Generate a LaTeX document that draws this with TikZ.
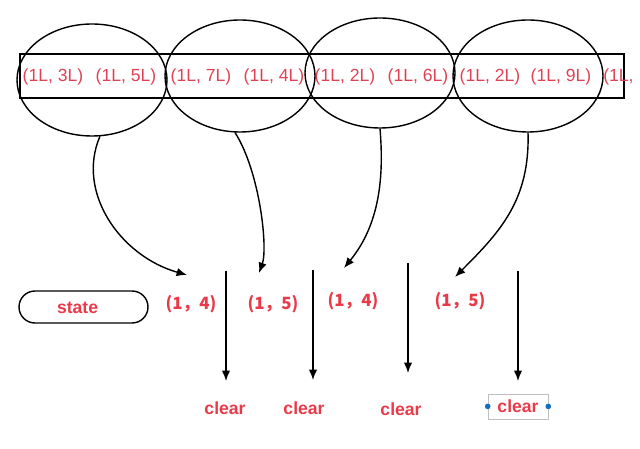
\documentclass[tikz,border=0pt]{standalone}
\usepackage{fontspec}
\setmainfont{Liberation Sans}
\newfontfamily\cjkfont{Noto Sans CJK SC}
\usetikzlibrary{shapes.geometric, arrows.meta}

\definecolor{pairred}{RGB}{222,66,84}
\definecolor{labelred}{RGB}{232,58,72}
\definecolor{dotblue}{RGB}{20,110,190}

\begin{document}
\begin{tikzpicture}[
    groupoval/.style={draw, ellipse, line width=1pt, minimum width=3.75cm, minimum height=2.8cm, inner sep=0pt},
    pairtext/.style={text=pairred, font=\fontsize{12.5}{14}\selectfont, inner sep=0pt},
    resulttext/.style={text=labelred, font=\cjkfont\bfseries\fontsize{12}{14}\selectfont},
    cleartext/.style={text=labelred, font=\bfseries\fontsize{12.5}{14}\selectfont},
    flowarrow/.style={-{Latex[length=2.6mm, width=2.1mm]}, line width=1pt}
]
    \useasboundingbox (0,0) rectangle (16,11.2);

    % Array
    \draw[line width=1pt] (0.5,8.75) rectangle (15.6,9.85);

    \node[pairtext] (p1) at (1.325,9.275) {(1L, 3L)};
    \node[pairtext] (p2) at (3.15,9.275) {(1L, 5L)};
    \node[pairtext] (p3) at (5.025,9.275) {(1L, 7L)};
    \node[pairtext] (p4) at (6.85,9.275) {(1L, 4L)};
    \node[pairtext] (p5) at (8.625,9.275) {(1L, 2L)};
    \node[pairtext] (p6) at (10.45,9.275) {(1L, 6L)};
    \node[pairtext] (p7) at (12.25,9.275) {(1L, 2L)};
    \node[pairtext] (p8) at (14.025,9.275) {(1L, 9L)};
    \node[pairtext, anchor=west] (p9) at (15.075,9.275) {(1L,};

    % Groups
    \node[groupoval] (g1) at (2.3,9.2) {};
    \node[groupoval] (g2) at (6.0,9.3) {};
    \node[groupoval, minimum height=2.75cm] (g3) at (9.5,9.375) {};
    \node[groupoval] (g4) at (13.2,9.3) {};

    % Curve ends
    \coordinate (a1) at (4.675,4.325);
    \coordinate (a2) at (6.475,4.375);
    \coordinate (a3) at (8.6,4.5);
    \coordinate (a4) at (11.375,4.275);

    \draw[flowarrow] (g1.-82) .. controls (1.9,6.4) and (3.0,4.8) .. (a1);
    \draw[flowarrow] (g2.-95) .. controls (6.5,6.9) and (6.7,5.0) .. (a2);
    \draw[flowarrow] (g3.-90) .. controls (9.6,6.8) and (9.5,5.6) .. (a3);
    \draw[flowarrow] (g4.-90) .. controls (13.25,6.2) and (12.5,5.4) .. (a4);

    % Results
    \node[resulttext] (r1) at (4.775,3.6) {(1，4)};
    \node[resulttext] (r2) at (6.825,3.6) {(1，5)};
    \node[resulttext] (r3) at (8.825,3.675) {(1，4)};
    \node[resulttext] (r4) at (11.5,3.675) {(1，5)};

    % State
    \node[draw, line width=1pt, rounded corners=0.4cm, minimum width=3.225cm, minimum height=0.8cm] (state) at (2.0875,3.525) {};
    \node[cleartext] (statetext) at (1.94,3.5) {state};

    % Clear
    \node[cleartext] (c1) at (5.625,1.0) {clear};
    \node[cleartext] (c2) at (7.6,1.0) {clear};
    \node[cleartext] (c3) at (10.025,0.975) {clear};
    \node[cleartext, draw=gray!50, line width=0.4pt, minimum width=1.5cm, minimum height=0.625cm] (c4) at (12.95,1.04) {clear};
    \fill[dotblue] (c4.west) circle (2pt);
    \fill[dotblue] (c4.east) circle (2pt);

    \coordinate (s1) at (5.65,4.425);
    \coordinate (e1) at (5.65,1.675);
    \coordinate (s2) at (7.825,4.45);
    \coordinate (e2) at (7.825,1.7);
    \coordinate (s3) at (10.2,4.625);
    \coordinate (e3) at (10.2,1.875);
    \coordinate (s4) at (12.95,4.425);
    \coordinate (e4) at (12.95,1.675);

    \draw[flowarrow] (s1) -- (e1);
    \draw[flowarrow] (s2) -- (e2);
    \draw[flowarrow] (s3) -- (e3);
    \draw[flowarrow] (s4) -- (e4);
\end{tikzpicture}
\end{document}
